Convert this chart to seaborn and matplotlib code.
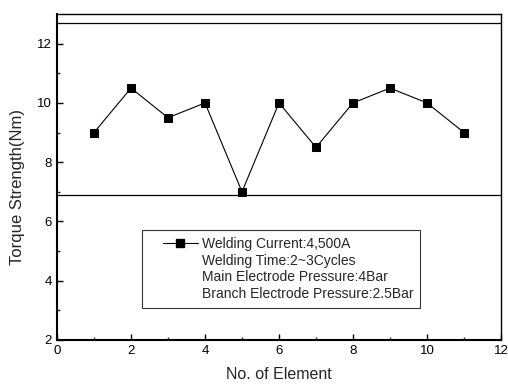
import matplotlib
matplotlib.use("Agg")
import matplotlib.pyplot as plt
import seaborn as sns
import pandas as pd
import numpy as np
from matplotlib.lines import Line2D
from matplotlib.legend_handler import HandlerLine2D

elements = [1, 2, 3, 4, 5, 6, 7, 8, 9, 10, 11]
torque = [9, 10.5, 9.5, 10, 7, 10, 8.5, 10, 10.5, 10, 9]
upper_limit = 12.7
lower_limit = 6.9
legend_labels = ["Welding Current:4,500A", "Welding Time:2~3Cycles",
                 "Main Electrode Pressure:4Bar", "Branch Electrode Pressure:2.5Bar"]

sns.set_theme(style="ticks")
plt.rcParams['font.family'] = ['Liberation Sans', 'DejaVu Sans']


class ShiftedHandler(HandlerLine2D):
    def __init__(self, skip=0.3, **kw):
        super().__init__(**kw)
        self.skip = skip

    def get_xdata(self, legend, xdescent, ydescent, width, height, fontsize):
        x0 = -xdescent + self.skip * width
        x1 = -xdescent + width
        return np.array([x0, x1]), np.array([(x0 + x1) / 2])


fig = plt.figure(figsize=(5.08, 3.85), dpi=100)
ax = fig.add_axes([57/508, 1 - 340/385, (501-57)/508, (340-14)/385])

df = pd.DataFrame({"x": elements, "y": torque})
sns.lineplot(data=df, x="x", y="y", ax=ax, color="black", marker="s",
             markersize=6, linewidth=0.8, markeredgecolor="black")
ax.axhline(upper_limit, color="black", linewidth=0.9)
ax.axhline(lower_limit, color="black", linewidth=0.9)

ax.set_xlim(0, 12)
ax.set_ylim(2, 13)
ax.set_xticks([0, 2, 4, 6, 8, 10, 12])
ax.set_xticks([1, 3, 5, 7, 9, 11], minor=True)
ax.set_yticks([2, 4, 6, 8, 10, 12])
ax.set_yticks([3, 5, 7, 9, 11], minor=True)
ax.tick_params(which="major", direction="in", length=4, width=1, labelsize=9.5, colors="black")
ax.tick_params(which="minor", direction="in", length=2.5, width=1)
for s in ["left", "bottom"]:
    ax.spines[s].set_linewidth(1.5)
for s in ["top", "right"]:
    ax.spines[s].set_linewidth(1.0)
for s in ax.spines.values():
    s.set_color("black")

ax.set_xlabel("No. of Element", fontsize=11.5, labelpad=7)
ax.set_ylabel("Torque Strength(Nm)", fontsize=12)
ax.yaxis.set_label_coords(-0.072, 0.47)

line_handle = Line2D([0], [0], color="black", marker="s", markersize=6, linewidth=0.8)
handles = [line_handle] + [Line2D([0], [0], color="none") for _ in range(3)]
leg = ax.legend(handles, legend_labels, loc="upper left",
                bbox_to_anchor=((142-57)/444, (340-230)/326),
                borderaxespad=0, fontsize=10, frameon=True, fancybox=False,
                edgecolor="black", handlelength=3.5, handletextpad=0.3,
                labelspacing=0.19, borderpad=0.5,
                handler_map={line_handle: ShiftedHandler(skip=0.29)})
leg.get_frame().set_linewidth(0.8)

fig.savefig("out.png", dpi=100)
